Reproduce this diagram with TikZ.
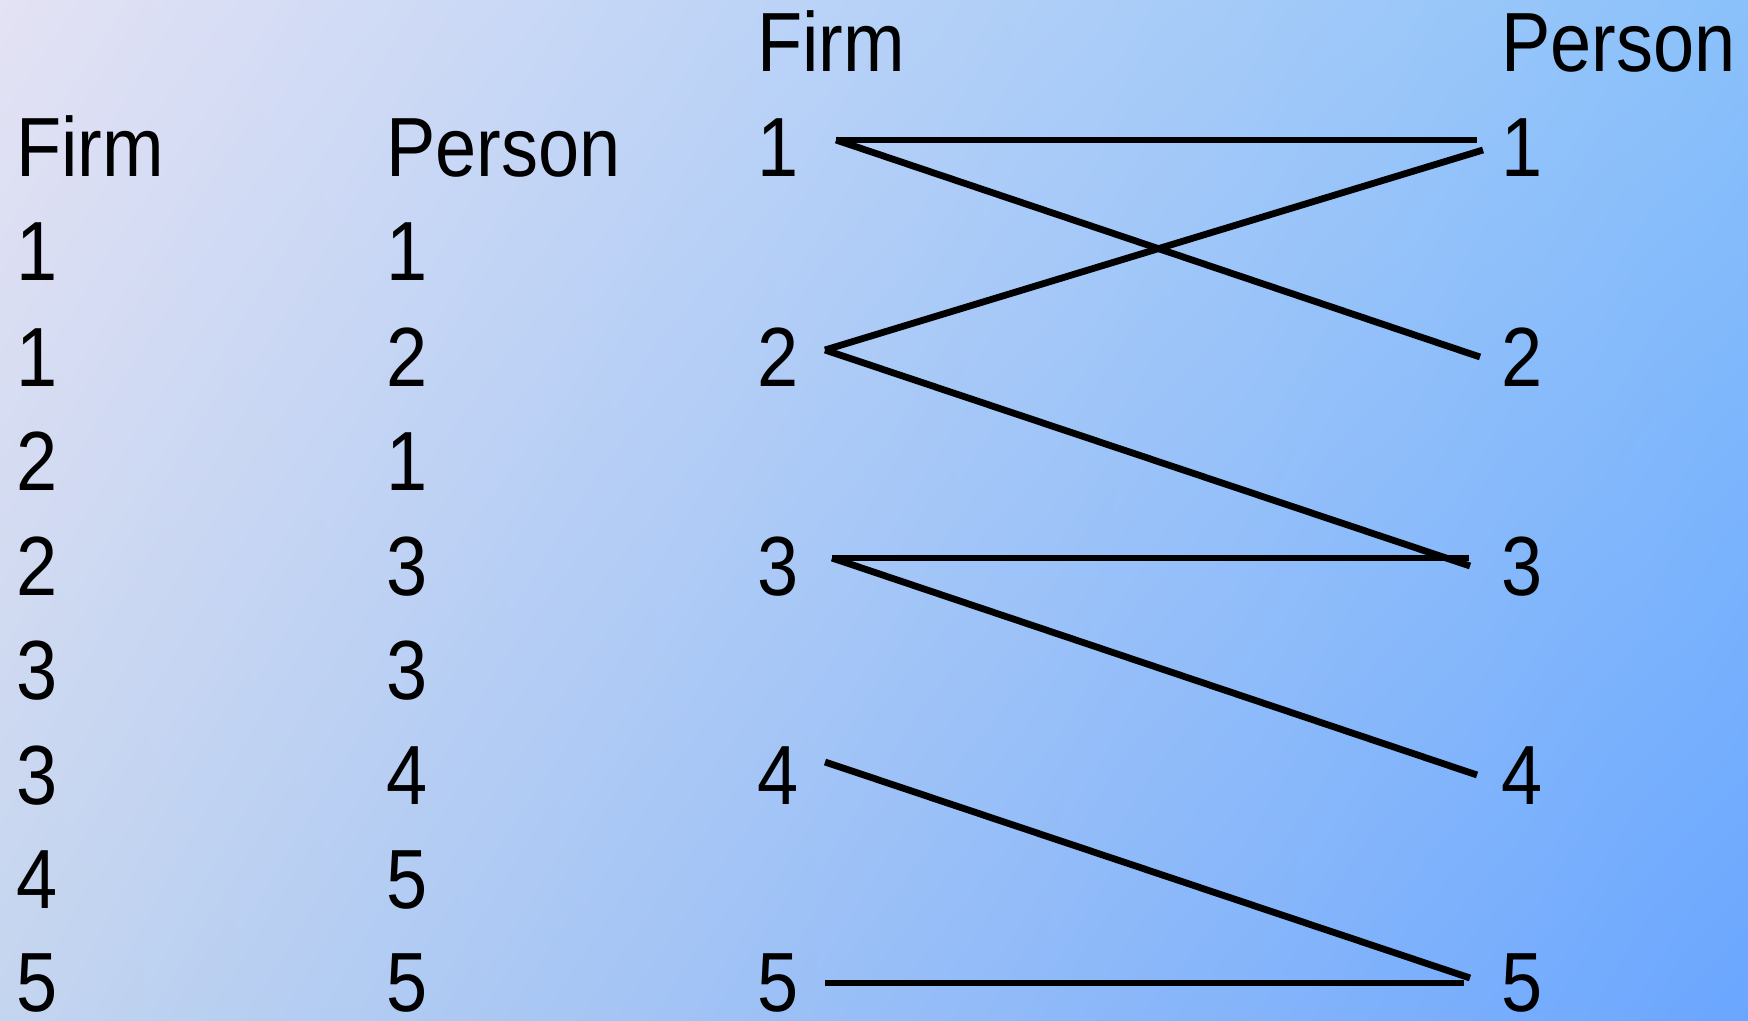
\documentclass[tikz,border=0pt]{standalone}
\usepackage{fontspec}
\setmainfont{Liberation Sans}[FakeStretch=0.88]
\usetikzlibrary{positioning,shadings}

\definecolor{bgul}{RGB}{228,226,244}
\definecolor{bgur}{RGB}{138,193,250}
\definecolor{bgll}{RGB}{196,213,239}
\definecolor{bglr}{RGB}{106,166,255}

\begin{document}
\begin{tikzpicture}[
  x = 0.5pt, y = -0.5pt,
  font = \fontsize{42}{50}\selectfont,
  lbl/.style  = {anchor=base west, inner sep=0pt, text=black},
  link/.style = {draw=black, line width=3.4pt, line cap=butt},
]

% Background
\shade[upper left=bgul, upper right=bgur, lower left=bgll, lower right=bglr]
  (0,0) rectangle (1748,1021);
\useasboundingbox (0,0) rectangle (1748,1021);

% Left: table of pairs
\node[lbl] (tf)  at (16,177)   {Firm};
\node[lbl] (tp)  at (386,177)  {Person};
\node[lbl] (tf1) at (16,281)   {1};  \node[lbl] (tp1) at (386,281)  {1};
\node[lbl] (tf2) at (16,386)   {1};  \node[lbl] (tp2) at (386,386)  {2};
\node[lbl] (tf3) at (16,490)   {2};  \node[lbl] (tp3) at (386,490)  {1};
\node[lbl] (tf4) at (16,595)   {2};  \node[lbl] (tp4) at (386,595)  {3};
\node[lbl] (tf5) at (16,699)   {3};  \node[lbl] (tp5) at (386,699)  {3};
\node[lbl] (tf6) at (16,804)   {3};  \node[lbl] (tp6) at (386,804)  {4};
\node[lbl] (tf7) at (16,908)   {4};  \node[lbl] (tp7) at (386,908)  {5};
\node[lbl] (tf8) at (16,1011)  {5};  \node[lbl] (tp8) at (386,1011) {5};

% Right: bipartite graph
\node[lbl] (gf) at (757,72)   {Firm};
\node[lbl] (gp) at (1501,72)  {Person};
\foreach \i/\yy in {1/177,2/386,3/595,4/804,5/1011} {
  \node[lbl] (f\i) at (757,\yy)  {\i};
  \node[lbl] (p\i) at (1501,\yy) {\i};
}

% Line ends
\coordinate (f1e) at (836,140);
\coordinate (f2e) at (825,350);
\coordinate (f3e) at (832,558);
\coordinate (f4e) at (825,762);
\coordinate (f5e) at (825,983);
\coordinate (p1a) at (1477,140);
\coordinate (p1b) at (1483,150);
\coordinate (p2a) at (1480,357);
\coordinate (p3a) at (1469,558);
\coordinate (p3b) at (1470,566);
\coordinate (p4a) at (1477,775);
\coordinate (p5a) at (1470,978);
\coordinate (p5b) at (1464,983);

% Edges
\draw[link] (f1e) -- (p1a);
\draw[link] (f1e) -- (p2a);
\draw[link] (f2e) -- (p1b);
\draw[link] (f2e) -- (p3b);
\draw[link] (f3e) -- (p3a);
\draw[link] (f3e) -- (p4a);
\draw[link] (f4e) -- (p5a);
\draw[link] (f5e) -- (p5b);

\end{tikzpicture}
\end{document}
